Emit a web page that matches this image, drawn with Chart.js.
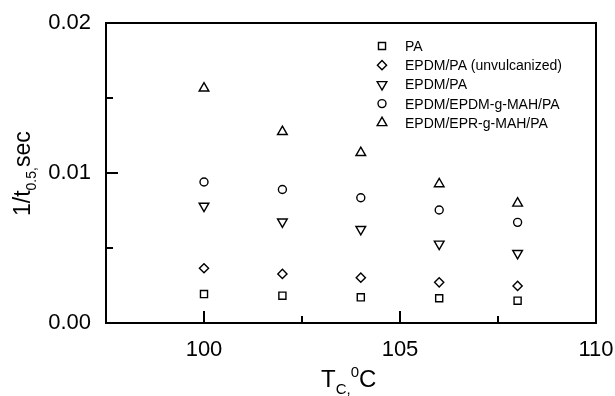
<!DOCTYPE html>
<html>
<head>
<meta charset="utf-8">
<script src="https://cdn.jsdelivr.net/npm/chart.js@4/dist/chart.umd.min.js"></script>
<style>
  html, body { margin: 0; padding: 0; background: #fff; }
  #wrap { width: 615px; height: 396px; position: relative; }
</style>
</head>
<body>
<div id="wrap"><canvas id="c"></canvas></div>
<script>
// ── Dados
const temps = [100, 102, 104, 106, 108];
const seriesNames = ['PA', 'EPDM/PA (unvulcanized)', 'EPDM/PA', 'EPDM/EPDM-g-MAH/PA', 'EPDM/EPR-g-MAH/PA'];
const paVals     = [0.00193, 0.00182, 0.00171, 0.00165, 0.00149];
const unvulcVals = [0.00365, 0.00327, 0.00302, 0.00271, 0.00247];
const epdmPaVals = [0.00780, 0.00675, 0.00625, 0.00527, 0.00465];
const epdmMahVals = [0.00940, 0.00890, 0.00835, 0.00753, 0.00671];
const eprMahVals = [0.01565, 0.01275, 0.01135, 0.00927, 0.00798];

const xMajor = [100, 105, 110];
const xMinor = [102.5, 107.5];
const yMajor = [0, 0.01, 0.02];
const yMinor = [0.005, 0.015];

const FONT = "'Liberation Sans', Arial, sans-serif";

// ── Estilos dos marcadores
const markers = [
  { pointStyle: 'rect',     radius: 5,   rotation: 0 },
  { pointStyle: 'rectRot',  radius: 4.6, rotation: 0 },
  { pointStyle: 'triangle', radius: 5.6, rotation: 180 },
  { pointStyle: 'circle',   radius: 4,   rotation: 0 },
  { pointStyle: 'triangle', radius: 5.6, rotation: 0 }
];
const allVals = [paVals, unvulcVals, epdmPaVals, epdmMahVals, eprMahVals];

const datasets = allVals.map((vals, i) => ({
  label: seriesNames[i],
  data: temps.map((t, j) => ({ x: t, y: vals[j] })),
  pointStyle: markers[i].pointStyle,
  pointRadius: markers[i].radius,
  pointRotation: markers[i].rotation,
  pointBorderWidth: 1.4,
  pointBorderColor: '#000',
  pointBackgroundColor: 'rgba(255,255,255,0)',
  showLine: false
}));

// ── Moldura + ticks internos
const framePlugin = {
  id: 'frame',
  afterDatasetsDraw(chart) {
    const { ctx, chartArea: a, scales } = chart;
    ctx.save();
    ctx.strokeStyle = '#000';
    ctx.lineWidth = 2;
    ctx.strokeRect(a.left, a.top, a.right - a.left, a.bottom - a.top);
    ctx.beginPath();
    const tickX = (v, len) => { const px = scales.x.getPixelForValue(v); ctx.moveTo(px, a.bottom); ctx.lineTo(px, a.bottom - len); };
    const tickY = (v, len) => { const py = scales.y.getPixelForValue(v); ctx.moveTo(a.left, py); ctx.lineTo(a.left + len, py); };
    xMajor.forEach(v => tickX(v, 12));
    xMinor.forEach(v => tickX(v, 7));
    yMajor.forEach(v => tickY(v, 12));
    yMinor.forEach(v => tickY(v, 7));
    ctx.stroke();
    ctx.restore();
  }
};

// ── Títulos dos eixos (com sub/sobrescritos)
const titlesPlugin = {
  id: 'titles',
  afterDraw(chart) {
    const { ctx } = chart;
    ctx.save();
    ctx.fillStyle = '#000';
    ctx.textBaseline = 'alphabetic';
    ctx.textAlign = 'left';
    const run = (parts, x, y) => {
      parts.forEach(p => {
        ctx.font = p.size + 'px ' + FONT;
        ctx.fillText(p.t, x, y + (p.dy || 0));
        x += ctx.measureText(p.t).width;
      });
    };
    // eixo X
    run([
      { t: 'T', size: 24 },
      { t: 'C,', size: 15, dy: 7 },
      { t: '0', size: 15, dy: -10 },
      { t: 'C', size: 24 }
    ], 321, 387);
    // eixo Y (rotacionado)
    ctx.translate(30, 216);
    ctx.rotate(-Math.PI / 2);
    run([
      { t: '1/t', size: 23 },
      { t: '0.5,', size: 14, dy: 6 },
      { t: 'sec', size: 23 }
    ], 0, 0);
    ctx.restore();
  }
};

// ── Legenda dentro do gráfico
const legendPlugin = {
  id: 'boxLegend',
  afterDraw(chart) {
    const { ctx } = chart;
    ctx.save();
    ctx.font = '14px ' + FONT;
    ctx.textBaseline = 'alphabetic';
    seriesNames.forEach((name, i) => {
      const y = 46 + i * 19.2;
      ctx.strokeStyle = '#000';
      ctx.fillStyle = 'rgba(255,255,255,0)';
      ctx.lineWidth = 1.4;
      Chart.helpers.drawPoint(ctx, {
        pointStyle: markers[i].pointStyle,
        radius: markers[i].radius,
        rotation: markers[i].rotation,
        borderWidth: 1.4
      }, 382, y);
      ctx.fillStyle = '#000';
      ctx.fillText(name, 405, y + 5);
    });
    ctx.restore();
  }
};

new Chart(document.getElementById('c'), {
  type: 'scatter',
  data: { datasets },
  options: {
    responsive: true,
    maintainAspectRatio: false,
    animation: false,
    layout: { padding: { top: 23, right: 19, left: 0, bottom: 0 } },
    plugins: { legend: { display: false }, tooltip: { enabled: false } },
    scales: {
      x: {
        type: 'linear',
        min: 97.5, max: 110,
        afterBuildTicks: s => { s.ticks = xMajor.map(v => ({ value: v })); },
        afterFit: s => { s.height = 73; s.paddingLeft = 0; s.paddingRight = 0; },
        grid: { display: false, drawTicks: false },
        border: { display: false },
        ticks: { color: '#000', padding: 14, font: { family: FONT, size: 22 }, callback: v => String(v) }
      },
      y: {
        type: 'linear',
        min: 0, max: 0.02,
        afterBuildTicks: s => { s.ticks = yMajor.map(v => ({ value: v })); },
        afterFit: s => { s.width = 106; s.paddingTop = 0; s.paddingBottom = 0; },
        grid: { display: false, drawTicks: false },
        border: { display: false },
        ticks: { color: '#000', padding: 15, font: { family: FONT, size: 22 }, callback: v => Number(v).toFixed(2) }
      }
    }
  },
  plugins: [framePlugin, titlesPlugin, legendPlugin]
});
</script>
</body>
</html>
